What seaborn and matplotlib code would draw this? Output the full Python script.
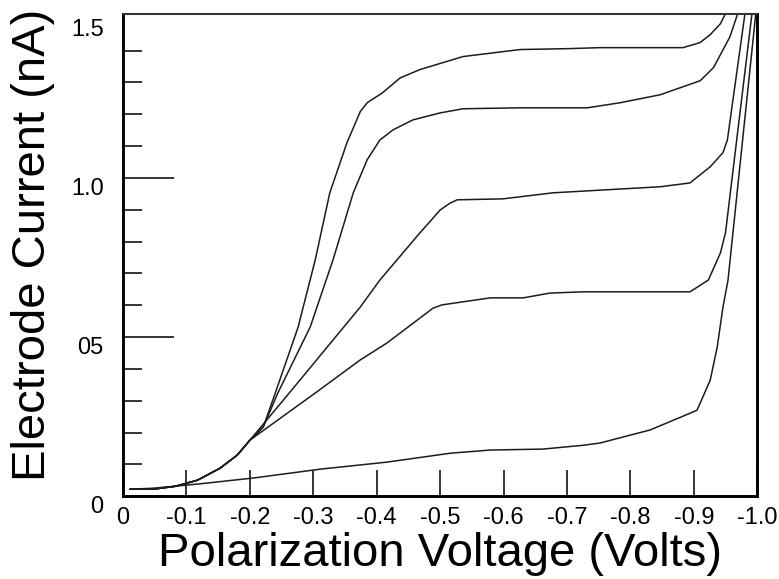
import numpy as np
import matplotlib
matplotlib.use('Agg')
import matplotlib.pyplot as plt
import seaborn as sns

# polarization voltage (V) and electrode current (nA) for each curve
volts_a = [-0.011, -0.047, -0.082, -0.117, -0.153, -0.180, -0.200, -0.221, -0.240, -0.276,
           -0.303, -0.326, -0.353, -0.374, -0.385, -0.409, -0.437, -0.468, -0.536, -0.626,
           -0.705, -0.752, -0.883, -0.910, -0.926, -0.942, -0.951]
current_a = [0.022, 0.022, 0.031, 0.050, 0.088, 0.129, 0.176, 0.217, 0.324, 0.531,
             0.742, 0.953, 1.110, 1.208, 1.236, 1.267, 1.314, 1.340, 1.381, 1.403,
             1.406, 1.409, 1.409, 1.425, 1.450, 1.484, 1.520]

volts_b = [-0.011, -0.047, -0.082, -0.117, -0.153, -0.180, -0.200, -0.221, -0.244, -0.295,
           -0.331, -0.363, -0.385, -0.405, -0.426, -0.457, -0.500, -0.536, -0.626, -0.732,
           -0.784, -0.847, -0.910, -0.931, -0.957, -0.970]
current_b = [0.022, 0.022, 0.031, 0.050, 0.088, 0.129, 0.176, 0.217, 0.324, 0.531,
             0.742, 0.953, 1.057, 1.119, 1.151, 1.182, 1.204, 1.217, 1.220, 1.220,
             1.236, 1.261, 1.305, 1.346, 1.443, 1.520]

volts_c = [-0.011, -0.047, -0.082, -0.117, -0.153, -0.180, -0.200, -0.262, -0.374, -0.405,
           -0.468, -0.500, -0.516, -0.527, -0.599, -0.678, -0.847, -0.894, -0.926, -0.946,
           -0.953, -0.981]
current_c = [0.022, 0.022, 0.031, 0.050, 0.088, 0.129, 0.176, 0.324, 0.594, 0.679,
             0.827, 0.899, 0.921, 0.931, 0.934, 0.953, 0.972, 0.984, 1.035, 1.079,
             1.119, 1.520]

volts_d = [-0.011, -0.047, -0.082, -0.117, -0.153, -0.180, -0.200, -0.248, -0.303, -0.374,
           -0.416, -0.489, -0.503, -0.579, -0.631, -0.673, -0.726, -0.894, -0.923, -0.942,
           -0.950, -0.992]
current_d = [0.022, 0.022, 0.031, 0.050, 0.088, 0.129, 0.176, 0.245, 0.324, 0.428,
             0.481, 0.591, 0.601, 0.623, 0.623, 0.638, 0.642, 0.642, 0.679, 0.764,
             0.827, 1.520]

volts_e = [-0.011, -0.047, -0.117, -0.205, -0.311, -0.416, -0.516, -0.579, -0.662, -0.726,
           -0.752, -0.831, -0.879, -0.905, -0.910, -0.926, -0.937, -0.946, -0.954, -0.998]
current_e = [0.022, 0.025, 0.038, 0.057, 0.085, 0.107, 0.135, 0.145, 0.148, 0.160,
             0.167, 0.208, 0.248, 0.270, 0.292, 0.365, 0.469, 0.594, 0.679, 1.520]

x_ticks = [0, -0.1, -0.2, -0.3, -0.4, -0.5, -0.6, -0.7, -0.8, -0.9, -1.0]
x_tick_labels = ['0', '-0.1', '-0.2', '-0.3', '-0.4', '-0.5', '-0.6', '-0.7', '-0.8', '-0.9', '-1.0']
y_ticks = [0, 0.5, 1.0, 1.5]
y_tick_labels = ['0', '05', '1.0', '1.5']
y_minor = [0.1, 0.2, 0.3, 0.4, 0.6, 0.7, 0.8, 0.9, 1.1, 1.2, 1.3, 1.4]

sns.set_style('white')
plt.rcParams['font.family'] = ['Liberation Sans', 'DejaVu Sans']
plt.rcParams['text.color'] = 'black'
plt.rcParams['axes.labelcolor'] = 'black'

fig, ax = plt.subplots(figsize=(7.79, 5.79), dpi=100)
fig.subplots_adjust(left=0.158, right=0.972, bottom=0.143, top=0.976)

curves = [(volts_a, current_a), (volts_b, current_b), (volts_c, current_c),
          (volts_d, current_d), (volts_e, current_e)]
for v, c in curves:
    sns.lineplot(x=v, y=c, sort=False, estimator=None, color='#1c1c1c', linewidth=1.1, ax=ax)

ax.set_xlim(0, -1.0)
ax.set_ylim(0, 1.515)
ax.set_xticks(x_ticks)
ax.set_xticklabels(x_tick_labels)
ax.set_yticks(y_ticks)
ax.set_yticklabels(y_tick_labels)
ax.set_yticks(y_minor, minor=True)

ax.tick_params(axis='x', direction='in', length=19, width=1.1, pad=8, labelsize=17,
               colors='black', bottom=True, top=False)
ax.tick_params(axis='y', which='major', direction='in', length=37, width=1.1, pad=14,
               labelsize=17, colors='black', left=True, right=False)
ax.tick_params(axis='y', which='minor', direction='in', length=14, width=1.1,
               color='black', left=True, right=False)
ax.yaxis.get_major_ticks()[-1].tick1line.set_visible(False)
for lbl in ax.get_yticklabels():
    lbl.set_va('top')

for side in ['left', 'bottom', 'right']:
    ax.spines[side].set_linewidth(2.1)
    ax.spines[side].set_color('black')
ax.spines['top'].set_linewidth(1.5)
ax.spines['top'].set_color('#333333')

ax.set_xlabel('Polarization Voltage (Volts)', fontsize=34, labelpad=2)
ax.set_ylabel('Electrode Current (nA)', fontsize=34)
ax.yaxis.set_label_coords(-0.107, 0.522)

fig.savefig('out.png', dpi=100)
